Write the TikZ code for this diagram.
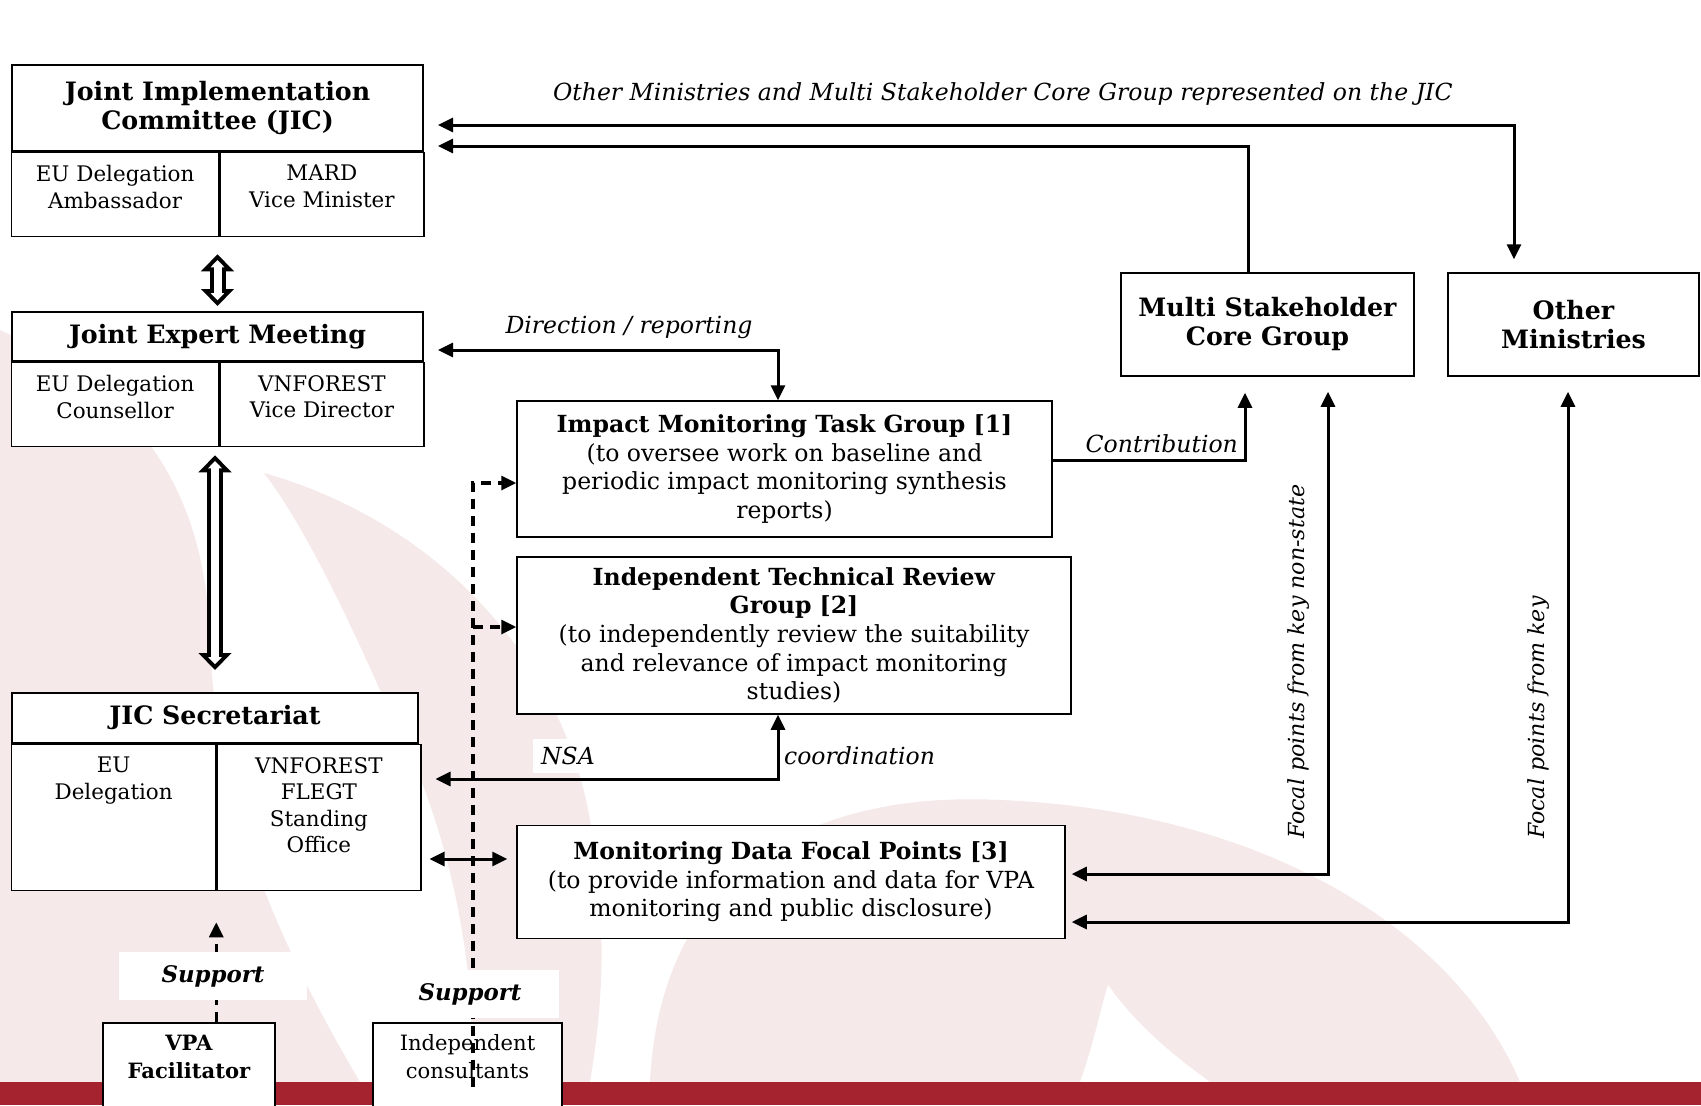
\documentclass[tikz,border=0pt]{standalone}
\usepackage{fontspec}
\setmainfont{DejaVu Serif}
\usepackage{tikz}
\usetikzlibrary{positioning,calc,arrows.meta}
\definecolor{swoosh}{RGB}{245,233,233}
\definecolor{barred}{RGB}{165,34,47}

\tikzset{
  headbox/.style={draw,line width=0.4mm,fill=white,align=center,inner sep=0pt,
    font=\fontsize{14.4}{16.5}\selectfont\bfseries},
  cellbox/.style={draw,line width=0.25mm,fill=white,inner sep=0pt},
  celltext/.style={align=center,inner sep=0pt,font=\fontsize{12.2}{15}\selectfont},
  taskbox/.style={draw,line width=0.3mm,fill=white,align=center,inner sep=0pt,
    font=\fontsize{13.4}{16.3}\selectfont},
  smallbox/.style={draw,line width=0.3mm,fill=white,align=center,inner xsep=1mm,
    inner ysep=2.4mm,anchor=north,font=\fontsize{12}{16}\selectfont},
  lbl/.style={inner sep=1pt,font=\fontsize{13.4}{16}\selectfont\itshape},
  focallbl/.style={inner sep=1pt,rotate=90,anchor=west,font=\fontsize{12.6}{14}\selectfont\itshape},
  supportlbl/.style={fill=white,inner sep=0pt,minimum height=9.6mm,
    font=\fontsize{13}{14}\selectfont\bfseries\itshape},
  conn/.style={line width=0.6mm},
  dashconn/.style={line width=0.65mm,dash pattern=on 2mm off 1.4mm},
  hollowout/.style={line width=3.2mm,
    {Triangle[length=3.4mm,width=6.4mm]}-{Triangle[length=3.4mm,width=6.4mm]}},
  hollowin/.style={white,line width=1.6mm,
    {Triangle[length=1.43mm,width=2.7mm]}-{Triangle[length=1.43mm,width=2.7mm]}}
}

\begin{document}
\begin{tikzpicture}[x=0.2mm,y=-0.2mm,>={Triangle[length=3mm,width=2.8mm]}]
  \clip (0,0) rectangle (1701,1105);
  \fill[white] (0,0) rectangle (1701,1105);
  % background swooshes
  \fill[swoosh] (0,330) .. controls (130,390) and (205,480) .. (210,640)
    .. controls (215,820) and (300,980) .. (360,1082) -- (0,1082) -- cycle;
  \fill[swoosh] (264,473) .. controls (430,520) and (560,650) .. (590,820)
    .. controls (610,940) and (600,1020) .. (590,1082) -- (470,1082)
    .. controls (480,950) and (440,800) .. (380,690)
    .. controls (340,600) and (300,520) .. (264,473) -- cycle;
  \fill[swoosh] (650,1082) .. controls (660,880) and (800,790) .. (1000,800)
    .. controls (1250,810) and (1450,920) .. (1520,1082) -- cycle;
  \fill[white] (1080,1082) .. controls (1095,1040) and (1100,1010) .. (1108,985)
    .. controls (1140,1030) and (1180,1060) .. (1210,1082) -- cycle;
  \fill[barred] (0,1082) rectangle (1701,1105);

  % the JIC
  \node[headbox,minimum width=82.2mm,minimum height=17.2mm] (jic) at (217.5,108)
    {Joint Implementation\\Committee (JIC)};
  \node[cellbox,anchor=north west,minimum width=41.4mm,minimum height=16.8mm] (jicl) at (jic.south west) {};
  \node[cellbox,anchor=north west,minimum width=40.8mm,minimum height=16.8mm] (jicr) at (jicl.north east) {};
  \node[celltext,below=2.6mm of jicl.north] {EU Delegation\\Ambassador};
  \node[celltext,below=2.6mm of jicr.north] {MARD\\Vice Minister};

  % the joint expert meeting
  \node[headbox,minimum width=82.2mm,minimum height=9.8mm] (jem) at (217.5,336.5) {Joint Expert Meeting};
  \node[cellbox,anchor=north west,minimum width=41.4mm,minimum height=16.8mm] (jeml) at (jem.south west) {};
  \node[cellbox,anchor=north west,minimum width=40.8mm,minimum height=16.8mm] (jemr) at (jeml.north east) {};
  \node[celltext,below=2.6mm of jeml.north] {EU Delegation\\Counsellor};
  \node[celltext,below=2.6mm of jemr.north] {VNFOREST\\Vice Director};

  % the secretariat
  \node[headbox,minimum width=81.2mm,minimum height=10mm] (secr) at (215,718) {JIC Secretariat};
  \node[cellbox,anchor=north west,minimum width=40.8mm,minimum height=29.2mm] (secrl) at (secr.south west) {};
  \node[cellbox,anchor=north west,minimum width=40.8mm,minimum height=29.2mm] (secrr) at (secrl.north east) {};
  \node[celltext,below=2.6mm of secrl.north] {EU\\Delegation};
  \node[celltext,below=2.6mm of secrr.north] {VNFOREST\\FLEGT\\Standing\\Office};

  % the task groups
  \node[taskbox,minimum width=107mm,minimum height=27.2mm] (imtg) at (784.5,469)
    {\textbf{Impact Monitoring Task Group [1]}\\(to oversee work on baseline and\\periodic impact monitoring synthesis\\reports)};
  \node[taskbox,minimum width=110.8mm,minimum height=31.4mm] (itrg) at (794,635.5)
    {\textbf{Independent Technical Review}\\\textbf{Group [2]}\\(to independently review the suitability\\and relevance of impact monitoring\\studies)};
  \node[taskbox,minimum width=109.6mm,minimum height=22.6mm] (mdfp) at (791,882)
    {\textbf{Monitoring Data Focal Points [3]}\\(to provide information and data for VPA\\monitoring and public disclosure)};

  % the groups on the right
  \node[headbox,line width=0.3mm,minimum width=58.6mm,minimum height=20.6mm] (mscg) at (1267.5,324.5)
    {Multi Stakeholder\\Core Group};
  \node[headbox,line width=0.3mm,minimum width=50.2mm,minimum height=20.6mm] (om) at (1573.5,324.5)
    {Other\\Ministries};

  % the support boxes
  \node[smallbox,minimum width=34.4mm,text depth=12mm] (vpa) at (189,1022) {\textbf{VPA}\\\textbf{Facilitator}};
  \node[smallbox,minimum width=37.8mm,text depth=12mm] (ic) at (467.5,1022) {Independent\\consultants};

  % the edges
  \coordinate (top1) at (1514,125);
  \coordinate (top2) at (1248,146);
  \draw[conn,<->,shorten <=2.8mm,shorten >=2.6mm] (jic.east |- top1) -- (top1) -- (om.north -| top1);
  \draw[conn,->,shorten >=2.8mm] (mscg.north -| top2) -- (top2) -- (jic.east |- top2);
  \node[lbl,anchor=base west] at (551,100)
    {Other Ministries and Multi Stakeholder Core Group represented on the JIC};

  \coordinate (dirrep) at (778,350);
  \draw[conn,<->,shorten <=2.8mm] (jem.east |- dirrep) -- (dirrep) -- (imtg.north -| dirrep);
  \node[lbl] at (629,327) {Direction / reporting};

  \coordinate (contrib) at (1245,460);
  \draw[conn,->,shorten >=3.2mm] (imtg.east |- contrib) -- (contrib) -- (mscg.south -| contrib);
  \node[lbl,anchor=south east] at ([xshift=-1mm,yshift=1mm]contrib) {Contribution};

  \coordinate (nsa) at (778,779);
  \draw[conn,<->,shorten <=2.8mm] (secrr.east |- nsa) -- (nsa) -- (itrg.south -| nsa);
  \node[lbl,fill=white,inner sep=1.6mm] at (568,756) {NSA};
  \node[lbl,anchor=west] at (782,756) {coordination};

  \coordinate (secmd) at (470,859);
  \draw[conn,<->,shorten <=1.6mm,shorten >=1.8mm] (secrr.east |- secmd) -- (mdfp.west |- secmd);

  \coordinate (focal1) at (1328,874);
  \coordinate (focal2) at (1568,922);
  \draw[conn,<->,shorten <=1.2mm,shorten >=3mm] (mdfp.east |- focal1) -- (focal1) -- (mscg.south -| focal1);
  \draw[conn,<->,shorten <=1.2mm,shorten >=3mm] (mdfp.east |- focal2) -- (focal2) -- (om.south -| focal2);
  \node[focallbl] at (1299,841) {Focal points from key non-state};
  \node[focallbl] at (1539,841) {Focal points from key};

  % the dashed support lines
  \coordinate (dash1) at (473,483);
  \coordinate (dash2) at (473,627);
  \draw[dashconn,->] (ic.center -| dash1) -- (dash1) -- (imtg.west |- dash1);
  \draw[dashconn,->] (dash2) -- (itrg.west |- dash2);
  \draw[dashconn,->,shorten >=6.2mm] (vpa.north -| secrl.south east) -- (secrl.south east);
  \node[supportlbl,minimum width=37.6mm] at (213,976) {Support};
  \node[supportlbl,minimum width=35.4mm] at (470,994) {Support};

  % the hollow arrows
  \draw[hollowout,shorten <=3.4mm,shorten >=1mm] (jicl.south east -| jem.north) -- (jem.north);
  \draw[hollowin,shorten <=4.57mm,shorten >=2.17mm] (jicl.south east -| jem.north) -- (jem.north);
  \draw[hollowout,shorten <=1.6mm,shorten >=4.4mm] (jeml.south east -| secr.north) -- (secr.north);
  \draw[hollowin,shorten <=2.77mm,shorten >=5.57mm] (jeml.south east -| secr.north) -- (secr.north);
\end{tikzpicture}
\end{document}
